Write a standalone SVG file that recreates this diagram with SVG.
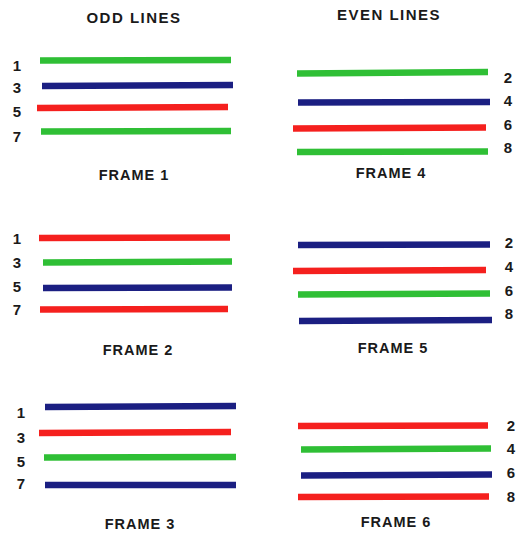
<svg xmlns="http://www.w3.org/2000/svg" width="523" height="535" viewBox="0 0 523 535">
<style>
text{font-family:"Liberation Sans",Arial,sans-serif;font-weight:bold;fill:#1a1a1a}
.h{font-size:15px;letter-spacing:1.5px;text-anchor:middle}
.f{font-size:14.5px;letter-spacing:1px;text-anchor:middle}
.n{font-size:15px;text-anchor:middle}
line{stroke-width:6.5;stroke-linecap:butt}
.g{stroke:#2fbf35}.b{stroke:#1b1f82}.r{stroke:#f5201e}
</style>
<rect width="523" height="535" fill="#fff"/>
<text class="h" x="134" y="23">ODD LINES</text>
<text class="h" x="389" y="20">EVEN LINES</text>
<g id="frame1">
<line class="g" x1="40" y1="60.5" x2="231" y2="60"/>
<line class="b" x1="42" y1="86" x2="233" y2="85"/>
<line class="r" x1="37" y1="108" x2="228" y2="107"/>
<line class="g" x1="41" y1="131.5" x2="231" y2="131"/>
<text class="n" x="17" y="71">1</text>
<text class="n" x="17" y="93">3</text>
<text class="n" x="17" y="117">5</text>
<text class="n" x="17" y="142">7</text>
<text class="f" x="134" y="180">FRAME 1</text>
</g>
<g id="frame4">
<line class="g" x1="297" y1="73.5" x2="488" y2="72"/>
<line class="b" x1="298" y1="102.5" x2="490" y2="102"/>
<line class="r" x1="293" y1="128.5" x2="486" y2="127.5"/>
<line class="g" x1="297" y1="152" x2="488" y2="151.5"/>
<text class="n" x="508" y="83">2</text>
<text class="n" x="508" y="106">4</text>
<text class="n" x="508" y="130">6</text>
<text class="n" x="508" y="153">8</text>
<text class="f" x="391" y="178">FRAME 4</text>
</g>
<g id="frame2">
<line class="r" x1="39" y1="238" x2="230" y2="237.5"/>
<line class="g" x1="43" y1="262.5" x2="232" y2="261.5"/>
<line class="b" x1="43" y1="288" x2="232" y2="287.5"/>
<line class="r" x1="40" y1="309.5" x2="228" y2="309"/>
<text class="n" x="17" y="244">1</text>
<text class="n" x="17" y="268">3</text>
<text class="n" x="17" y="292">5</text>
<text class="n" x="17" y="315">7</text>
<text class="f" x="138" y="355">FRAME 2</text>
</g>
<g id="frame5">
<line class="b" x1="298" y1="245" x2="490" y2="244.5"/>
<line class="r" x1="293" y1="271" x2="486" y2="270"/>
<line class="g" x1="298" y1="294.5" x2="490" y2="293.5"/>
<line class="b" x1="299" y1="321" x2="492" y2="320"/>
<text class="n" x="509" y="248">2</text>
<text class="n" x="509" y="272">4</text>
<text class="n" x="509" y="296">6</text>
<text class="n" x="509" y="319">8</text>
<text class="f" x="393" y="353">FRAME 5</text>
</g>
<g id="frame3">
<line class="b" x1="45" y1="407" x2="236" y2="406"/>
<line class="r" x1="39" y1="433" x2="231" y2="432"/>
<line class="g" x1="44" y1="457.5" x2="236" y2="457"/>
<line class="b" x1="45" y1="485" x2="236" y2="485"/>
<text class="n" x="21" y="418">1</text>
<text class="n" x="21" y="443">3</text>
<text class="n" x="21" y="467">5</text>
<text class="n" x="21" y="489">7</text>
<text class="f" x="140" y="529">FRAME 3</text>
</g>
<g id="frame6">
<line class="r" x1="298" y1="426" x2="488" y2="425.5"/>
<line class="g" x1="301" y1="449.5" x2="491" y2="448.5"/>
<line class="b" x1="301" y1="475.5" x2="492" y2="474.5"/>
<line class="r" x1="298" y1="497" x2="489" y2="496.5"/>
<text class="n" x="511" y="431">2</text>
<text class="n" x="511" y="454">4</text>
<text class="n" x="511" y="478">6</text>
<text class="n" x="511" y="502">8</text>
<text class="f" x="396" y="527">FRAME 6</text>
</g>
</svg>
